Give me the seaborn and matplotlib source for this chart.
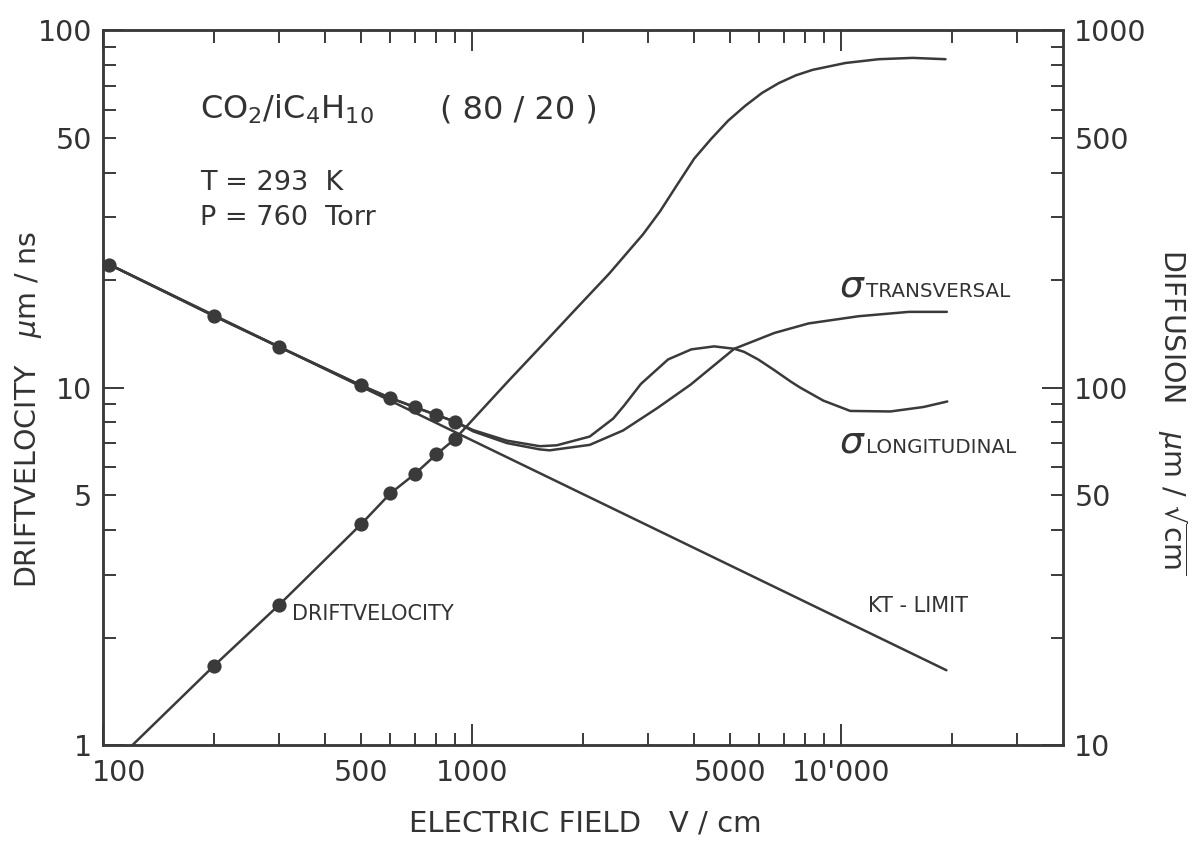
import matplotlib
matplotlib.use("Agg")
import matplotlib.pyplot as plt
import matplotlib.transforms as mtrans
import seaborn as sns
from matplotlib.ticker import FixedLocator, FixedFormatter, FuncFormatter

# ---------------- data ----------------
# drift velocity curve (left axis, um/ns)
drift_field = [120, 200, 300, 500, 600, 700, 800, 900, 1246, 1540, 1901, 2351, 2905,
               3231, 3593, 3999, 4447, 4937, 5490, 6101, 6769, 7540, 8375, 10280,
               12650, 15630, 19190]
drift_velocity = [1.0, 1.67, 2.47, 4.15, 5.06, 5.74, 6.51, 7.20, 10.37, 13.08, 16.51, 20.84,
                  26.86, 31.15, 36.93, 43.75, 49.7, 55.8, 61.4, 66.75, 71.1, 74.8, 77.5,
                  81.0, 83.0, 83.7, 83.0]
# measured drift velocity points
drift_pts_field = [200, 300, 500, 600, 700, 800, 900]
drift_pts_value = [1.67, 2.47, 4.15, 5.06, 5.74, 6.51, 7.20]

# measured diffusion points (right axis, um/sqrt(cm))
diff_pts_field = [104, 200, 300, 500, 600, 700, 800, 900]
diff_pts_value = [221, 158.6, 130, 101.5, 93.6, 88.2, 83.9, 80.3]

# sigma longitudinal
sl_field = [104, 200, 300, 500, 600, 700, 800, 900, 1006, 1242, 1526, 1696, 2083, 2413,
            2579, 2868, 3398, 3927, 4530, 5134, 5457, 5957, 6590, 7306, 7757, 8955,
            10590, 13600, 16720, 19400]
sl_value = [221, 158.6, 130, 101.5, 93.6, 88.2, 83.9, 80.3, 76.1, 71.1, 68.6, 69.0, 73.0, 82.0,
            89.0, 102.5, 120.0, 128.0, 130.5, 128.5, 126.0, 120.0, 112.0, 104.0, 100.0, 92.0,
            86.1, 85.8, 88.3, 91.5]
# sigma transversal
st_field = [104, 200, 300, 500, 600, 700, 800, 900, 1006, 1242, 1526, 1622, 2084, 2564,
            3176, 3910, 5134, 6598, 8166, 11170, 15280, 19350]
st_value = [221, 158.6, 130, 101.5, 93.6, 88.2, 83.9, 80.3, 75.5, 70.0, 67.2, 66.8, 69.2, 75.9,
            87.7, 102, 128.5, 142.3, 151.3, 158.5, 163, 163]
# thermal (kT) limit line
kt_field = [104, 19300]
kt_value = [221, 16.2]

x_major = [100, 1000, 10000]
x_major_labels = ["100", "1000", "10'000"]
x_minor_labels = {500: "500", 5000: "5000"}
yl_major = [1, 10, 100]
yl_major_labels = ["1", "10", "100"]
yl_minor_labels = {5: "5", 50: "50"}
yr_major = [10, 100, 1000]
yr_major_labels = ["10", "100", "1000"]
yr_minor_labels = {50: "50", 500: "500"}

# ---------------- style ----------------
sns.set_style("ticks")
plt.rcParams['font.family'] = ['DejaVu Sans']
plt.rcParams['mathtext.fontset'] = 'dejavusans'
INK = '#3a3a3a'
TXT = '#333333'

fig = plt.figure(figsize=(12, 8.41), dpi=100)
ax = fig.add_axes([0.086, 0.114, 0.80, 0.850])
ax2 = ax.twinx()

# left axis: drift velocity
sns.lineplot(x=drift_field, y=drift_velocity, ax=ax, color=INK, lw=1.8,
             estimator=None, sort=False)
sns.scatterplot(x=drift_pts_field, y=drift_pts_value, ax=ax, color=INK, s=105,
                edgecolor=INK, linewidth=0, zorder=5)

# right axis: diffusion
for fx, fy in [(sl_field, sl_value), (st_field, st_value), (kt_field, kt_value)]:
    sns.lineplot(x=fx, y=fy, ax=ax2, color=INK, lw=1.8, estimator=None, sort=False)
sns.scatterplot(x=diff_pts_field, y=diff_pts_value, ax=ax2, color=INK, s=105,
                edgecolor=INK, linewidth=0, zorder=5, clip_on=False)

ax.set_xscale('log'); ax.set_yscale('log')
ax2.set_yscale('log')
ax.set_xlim(100, 40000)
ax.set_ylim(1, 100)
ax2.set_ylim(10, 1000)

minor_subs = [2, 3, 4, 5, 6, 7, 8, 9]
def minors(lo, hi):
    out = []
    d = lo
    while d < hi:
        out += [d * s for s in minor_subs if d * s < hi]
        d *= 10
    return out

ax.xaxis.set_major_locator(FixedLocator(x_major))
ax.xaxis.set_major_formatter(FixedFormatter(x_major_labels))
ax.xaxis.set_minor_locator(FixedLocator(minors(100, 40000)))
ax.xaxis.set_minor_formatter(FuncFormatter(lambda v, p: x_minor_labels.get(int(round(v)), "")))

ax.yaxis.set_major_locator(FixedLocator(yl_major))
ax.yaxis.set_major_formatter(FixedFormatter(yl_major_labels))
ax.yaxis.set_minor_locator(FixedLocator(minors(1, 100)))
ax.yaxis.set_minor_formatter(FuncFormatter(lambda v, p: yl_minor_labels.get(int(round(v)), "")))

ax2.yaxis.set_major_locator(FixedLocator(yr_major))
ax2.yaxis.set_major_formatter(FixedFormatter(yr_major_labels))
ax2.yaxis.set_minor_locator(FixedLocator(minors(10, 1000)))
ax2.yaxis.set_minor_formatter(FuncFormatter(lambda v, p: yr_minor_labels.get(int(round(v)), "")))

for a in (ax, ax2):
    for sp in a.spines.values():
        sp.set_visible(True)
        sp.set_linewidth(1.8)
        sp.set_color(INK)
    a.set_xlabel(""); a.set_ylabel("")

TICK_FS = 20.5
ax.tick_params(axis='x', which='both', direction='in', top=True, bottom=True,
               labelsize=TICK_FS, labelcolor=TXT, color=INK, width=1.4, pad=10)
ax.tick_params(axis='x', which='major', length=15)
ax.tick_params(axis='x', which='minor', length=9)
ax.tick_params(axis='y', which='both', direction='in', left=True, right=False,
               labelsize=TICK_FS, labelcolor=TXT, color=INK, width=1.4, pad=8)
ax.tick_params(axis='y', which='major', length=15)
ax.tick_params(axis='y', which='minor', length=9)
ax2.tick_params(axis='y', which='both', direction='in', left=False, right=True,
                labelsize=TICK_FS, labelcolor=TXT, color=INK, width=1.4, pad=8)
ax2.tick_params(axis='y', which='major', length=15)
ax2.tick_params(axis='y', which='minor', length=9)

# shift the "100" x label a little to the right like the reference
fig.canvas.draw()
for lbl in ax.xaxis.get_majorticklabels():
    if lbl.get_text() == "100":
        lbl.set_transform(lbl.get_transform() + mtrans.ScaledTranslation(16/100, 0, fig.dpi_scale_trans))

# annotations
tr = ax.transAxes
ax.text(0.101, 0.877, r"CO$_2$/iC$_4$H$_{10}$", transform=tr, fontsize=23, color=TXT, va='baseline')
ax.text(0.351, 0.877, "( 80 / 20 )", transform=tr, fontsize=23, color=TXT, va='baseline')
ax.text(0.101, 0.776, "T = 293  K", transform=tr, fontsize=19.5, color=TXT, va='baseline')
ax.text(0.101, 0.727, "P = 760  Torr", transform=tr, fontsize=19.5, color=TXT, va='baseline')
ax.text(0.197, 0.175, "DRIFTVELOCITY", transform=tr, fontsize=15, color=TXT, va='baseline')
ax.text(0.797, 0.186, "KT - LIMIT", transform=tr, fontsize=15, color=TXT, va='baseline')
ax.text(0.766, 0.627, r"$\sigma$", transform=tr, fontsize=27, color=TXT, va='baseline')
ax.text(0.795, 0.627, "TRANSVERSAL", transform=tr, fontsize=14.3, color=TXT, va='baseline')
ax.text(0.766, 0.410, r"$\sigma$", transform=tr, fontsize=27, color=TXT, va='baseline')
ax.text(0.795, 0.408, "LONGITUDINAL", transform=tr, fontsize=14.3, color=TXT, va='baseline')

fig.text(0.4875, 0.021, "ELECTRIC FIELD   V / cm", fontsize=21, color=TXT, ha='center', va='center')
fig.text(0.024, 0.513, r"DRIFTVELOCITY   $\mu$m / ns", fontsize=20.5, color=TXT,
         rotation=90, ha='center', va='center')
fig.text(0.977, 0.510, r"DIFFUSION   $\mu$m / $\sqrt{\rm cm}$", fontsize=20.5, color=TXT,
         rotation=-90, ha='center', va='center')

fig.savefig("out.png", dpi=100, facecolor='white')
